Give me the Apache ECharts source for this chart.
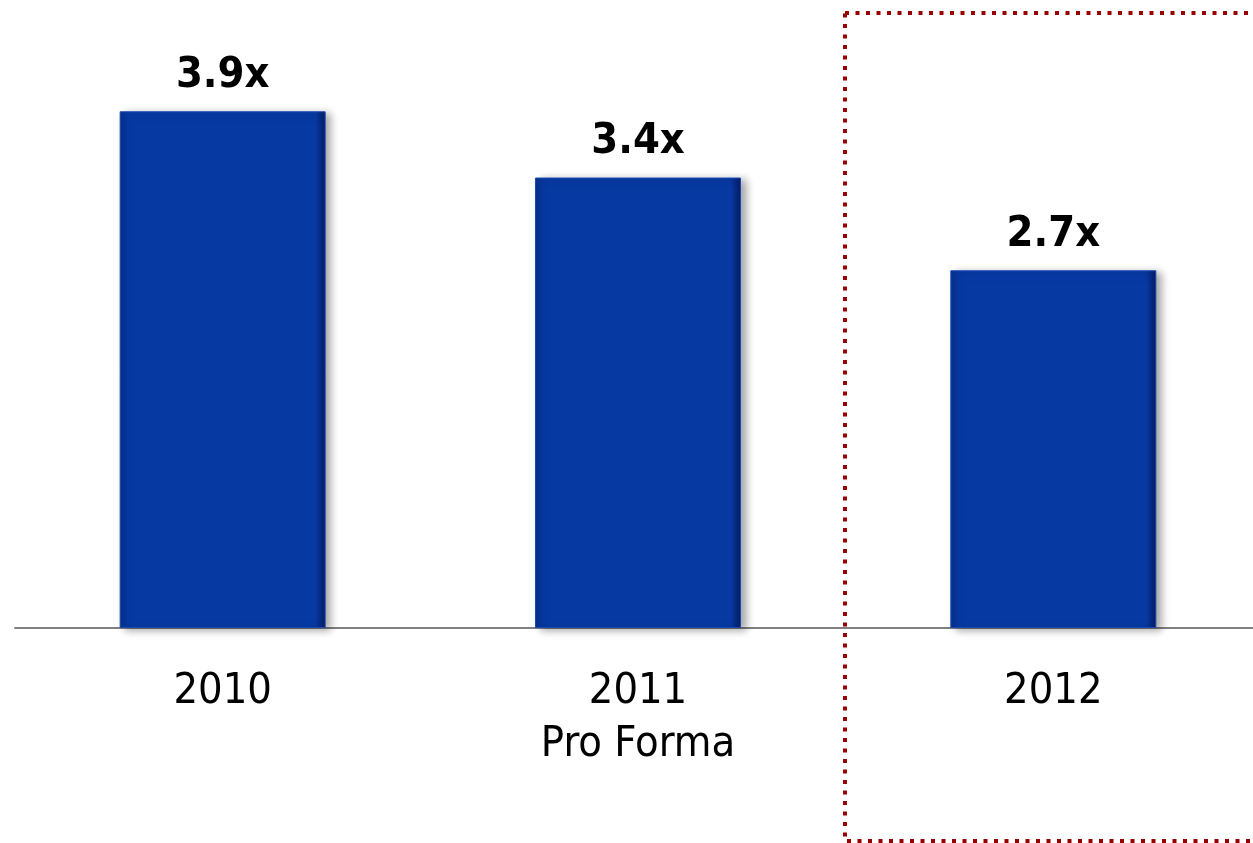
<!DOCTYPE html>
<html>
<head>
<meta charset="utf-8">
<script src="https://cdn.jsdelivr.net/npm/echarts@6/dist/echarts.min.js"></script>
<style>
  html, body { margin: 0; padding: 0; background: #fff; }
  #main { width: 1253px; height: 843px; }
</style>
</head>
<body>
<div id="main"></div>
<script>
  // data
  const categories = ['2010', '2011\nPro Forma', '2012'];
  const leverage = [3.9, 3.4, 2.7];

  const font = '"Liberation Sans Narrow", "DejaVu Sans Condensed", sans-serif';

  let myechart = echarts.init(document.getElementById('main'));
  let option = {
    animation: false,
    grid: {
      left: 15,
      right: -8,
      top: 0,
      bottom: 215,
      outerBoundsMode: 'none'
    },
    xAxis: {
      type: 'category',
      data: categories,
      axisLine: {
        lineStyle: { color: '#808080', width: 2 }
      },
      axisTick: { show: false },
      axisLabel: {
        color: '#000',
        fontFamily: font,
        fontSize: 43,
        lineHeight: 53,
        margin: 37
      }
    },
    yAxis: {
      type: 'value',
      min: 0,
      max: 4.74,
      show: false,
      splitLine: { show: false }
    },
    series: [{
      type: 'bar',
      data: leverage,
      barWidth: 206,
      itemStyle: {
        color: new echarts.graphic.LinearGradient(0, 0, 1, 0, [
          { offset: 0, color: '#062f88' },
          { offset: 0.04, color: '#0739a3' },
          { offset: 0.95, color: '#0739a3' },
          { offset: 1, color: '#041c62' }
        ]),
        borderColor: '#1a49b4',
        borderWidth: 1,
        shadowColor: 'rgba(0,0,0,0.35)',
        shadowBlur: 8,
        shadowOffsetX: 5,
        shadowOffsetY: 2
      },
      label: {
        show: true,
        position: 'top',
        distance: 14,
        color: '#000',
        fontFamily: font,
        fontWeight: 'bold',
        fontSize: 43,
        formatter: function (p) {
          return p.value.toFixed(1) + 'x';
        }
      }
    }],
    graphic: [{
      type: 'rect',
      shape: { x: 845, y: 13, width: 450, height: 828 },
      style: {
        fill: 'none',
        stroke: '#990000',
        lineWidth: 4,
        lineDash: [4, 6.5]
      }
    }]
  };
  myechart.setOption(option);
</script>
</body>
</html>
